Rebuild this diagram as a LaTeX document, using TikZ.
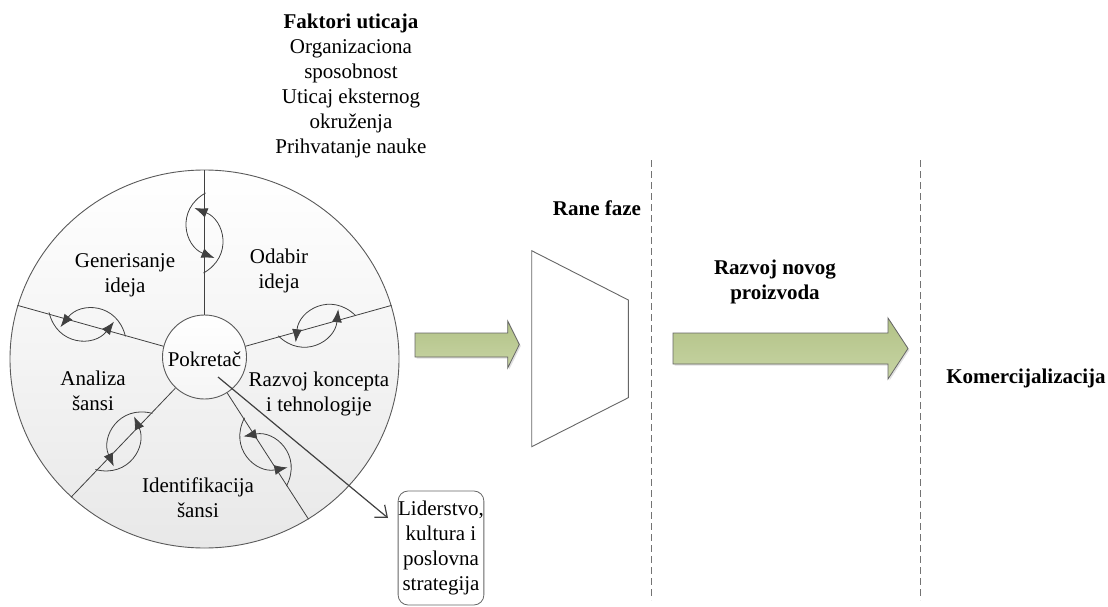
\documentclass[tikz,border=0pt]{standalone}
\usepackage{fontspec}
\IfFontExistsTF{LiberationSerif-Regular.ttf}
  {\setmainfont{LiberationSerif}[Extension=.ttf, UprightFont=*-Regular, BoldFont=*-Bold,
     ItalicFont=*-Italic, BoldItalicFont=*-BoldItalic]}
  {\setmainfont{Liberation Serif}}
\usetikzlibrary{arrows.meta,calc,shapes.geometric,shadows}
\definecolor{linegray}{HTML}{404040}
\definecolor{rimgray}{HTML}{5A5A5A}
\definecolor{greentop}{HTML}{B2C286}
\definecolor{greenbot}{HTML}{C7D4A4}
\begin{document}
\begin{tikzpicture}[x=1pt,y=-1pt,
  every node/.style={font=\fontsize{21}{25}\selectfont, align=center, inner sep=0pt},
  wheel/.style={ellipse, draw=rimgray, line width=0.9pt, top color=white, bottom color=black!9,
    minimum width=389pt, minimum height=378pt},
  hub/.style={circle, draw=rimgray, line width=0.9pt, top color=white, bottom color=black!4,
    minimum size=84pt},
  spoke/.style={draw=linegray, line width=0.8pt},
  loopline/.style={draw=linegray, line width=0.8pt, -{Latex[length=13pt,width=10pt]}},
  greenarrow/.style={draw=black!60, line width=0.8pt, top color=greentop, bottom color=greenbot,
    drop shadow={opacity=0.25, shadow xshift=1.5pt, shadow yshift=-1.5pt}},
  funnel/.style={draw=black!60, line width=0.9pt, fill=white},
  divider/.style={draw=black!55, line width=0.8pt, dash pattern=on 7pt off 4pt},
  notebox/.style={draw=black!60, line width=0.8pt, rounded corners=10pt, fill=white,
    minimum width=84pt, minimum height=114pt},
  pointer/.style={draw=linegray, line width=1.2pt, -{Straight Barb[length=10pt,width=16pt]}}]

\useasboundingbox (0,0) rectangle (1108,607);

% influencing factors
\node (factors) at (351,86) {\textbf{Faktori uticaja}\\Organizaciona\\sposobnost\\Uticaj eksternog\\okruženja\\Prihvatanje nauke};

% innovation wheel
\node[wheel] (wheel) at (204.5,359) {};
\coordinate (C) at (204.5,358);

% spokes from hub to rim
\foreach \a in {90,16,164,226,303}
  \draw[spoke] ($(C)+(-\a:42)$) -- (wheel.\a);

\node[hub] (hub) at (204.5,357) {};
\node (hubtext) at (204.5,359) {Pokretač};

% two-way loop arrows across each spoke (u along the spoke, v across it)
\foreach \ang/\dist in {270/125, -16/117, 196/122, 134/116, 57/112} {
  \begin{scope}[shift={($(C)+(\ang:\dist)$)},
      x={({cos(\ang)*1pt},{-sin(\ang)*1pt})},
      y={({-sin(\ang)*1pt},{-cos(\ang)*1pt})}]
    \draw[loopline] (40,1) .. controls (23,-29) and (-13,-20) .. (-25,10);
    \draw[loopline] (-40,-1) .. controls (-23,29) and (13,20) .. (25,-10);
  \end{scope}
}

% sector labels
\node (gen) at (125,275) {Generisanje\\ideja};
\node (odab) at (279,271) {Odabir\\ideja};
\node (anal) at (93,391) {Analiza\\šansi};
\node (razv) at (319,394) {Razvoj koncepta\\i tehnologije};
\node (ident) at (198,498) {Identifikacija\\šansi};

% leadership box and pointer from the hub
\node[notebox] (lead) at (441,548) {Liderstvo,\\kultura i\\poslovna\\strategija};
\coordinate (pstart) at (218,377);
\coordinate (pend) at (388,518);
\draw[pointer] (pstart) -- (pend);

% first green arrow
\path[greenarrow] (415,333) -- (507.7,333) -- (507.7,321) -- (519.3,344.5)
  -- (507.7,368) -- (507.7,357) -- (415,357) -- cycle;

% early phase funnel
\path[funnel] (531.7,250.7) -- (628.3,300) -- (628.3,397.7) -- (531.7,446.7) -- cycle;
\node (rane) at (597,208) {\textbf{Rane faze}};

% phase dividers
\draw[divider] (651.7,160) -- (651.7,600);
\draw[divider] (920,160) -- (920,600);

% second green arrow
\path[greenarrow] (673,333) -- (888,333) -- (888,318) -- (908,348.5)
  -- (888,379) -- (888,364) -- (673,364) -- cycle;
\node (npd) at (775,282) {\textbf{Razvoj novog}\\\textbf{proizvoda}};

\node (komerc) at (1026,378) {\textbf{Komercijalizacija}};
\end{tikzpicture}
\end{document}
